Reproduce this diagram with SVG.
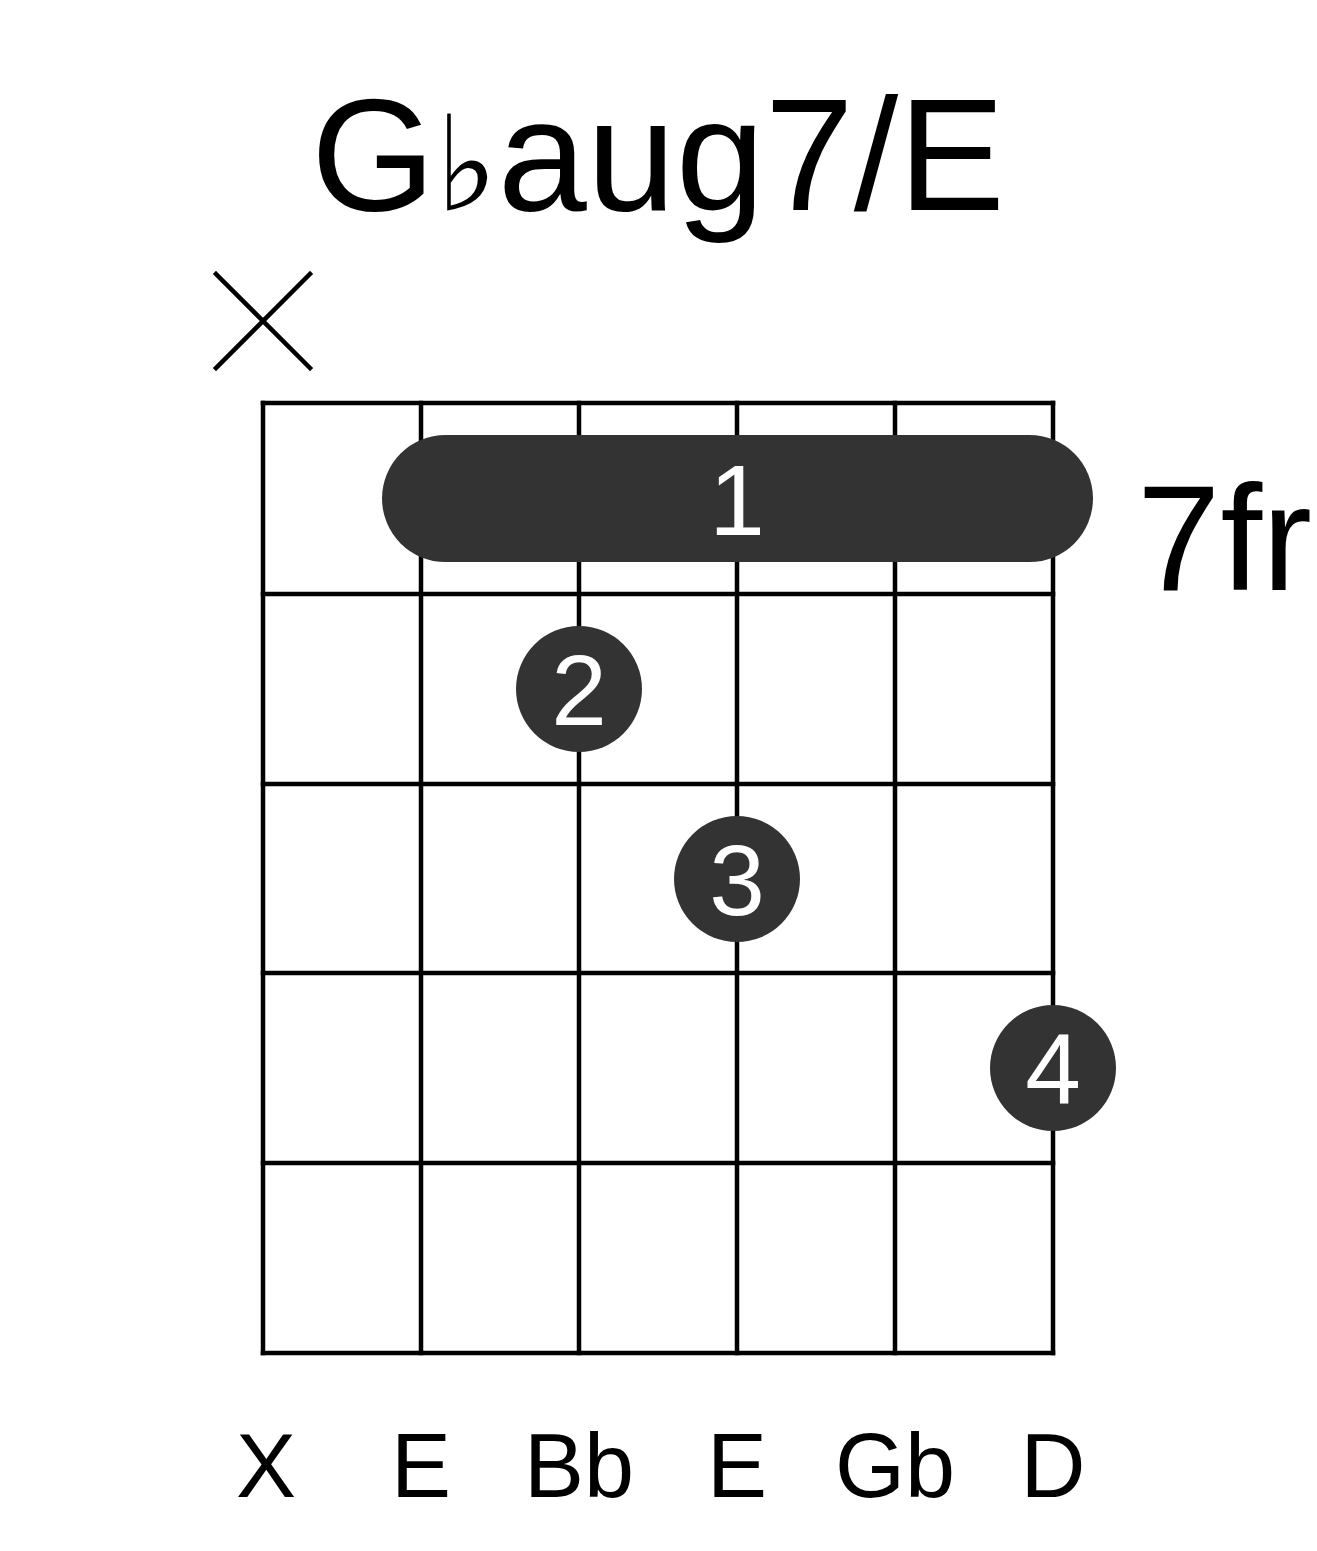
<svg xmlns="http://www.w3.org/2000/svg" width="1317" height="1551" viewBox="0 0 1317 1551">
<style>
.grid{stroke:#000;stroke-width:4.5;fill:none;stroke-linecap:square}
.dot{fill:#333}
.fn{font-family:"Liberation Sans",Arial,sans-serif;font-size:100px;fill:#fff;text-anchor:middle}
.lbl{font-family:"Liberation Sans",Arial,sans-serif;font-size:90px;fill:#000;text-anchor:middle}
</style>
<rect width="1317" height="1551" fill="#fff"/>
<text id="title" x="658" y="210" font-family="'Liberation Sans',Arial,sans-serif" font-size="160" text-anchor="middle">G<tspan font-family="'DejaVu Sans',sans-serif" font-size="132">♭</tspan>aug7/E</text>
<g id="mute"><path class="grid" d="M216,274L310,368M310,274L216,368"/></g>
<g id="grid">
<path class="grid" d="M263,403H1053M263,594H1053M263,784H1053M263,973H1053M263,1163H1053M263,1353H1053"/>
<path class="grid" d="M263,403V1353M421,403V1353M579,403V1353M737,403V1353M895,403V1353M1053,403V1353"/>
</g>
<text id="fret" x="1137" y="590" font-family="'Liberation Sans',Arial,sans-serif" font-size="150">7fr</text>
<g id="barre1"><rect class="dot" x="382" y="435" width="711" height="127" rx="63.5"/><text class="fn" x="737" y="535">1</text></g>
<g id="f2"><circle class="dot" cx="579" cy="689" r="63"/><text class="fn" x="579" y="725">2</text></g>
<g id="f3"><circle class="dot" cx="737" cy="879" r="63"/><text class="fn" x="737" y="915">3</text></g>
<g id="f4"><circle class="dot" cx="1053" cy="1068" r="63"/><text class="fn" x="1053" y="1104">4</text></g>
<g id="labels">
<text class="lbl" x="266" y="1497">X</text>
<text class="lbl" x="421" y="1497">E</text>
<text class="lbl" x="579" y="1497">Bb</text>
<text class="lbl" x="737" y="1497">E</text>
<text class="lbl" x="895" y="1497">Gb</text>
<text class="lbl" x="1053" y="1497">D</text>
</g>
</svg>
